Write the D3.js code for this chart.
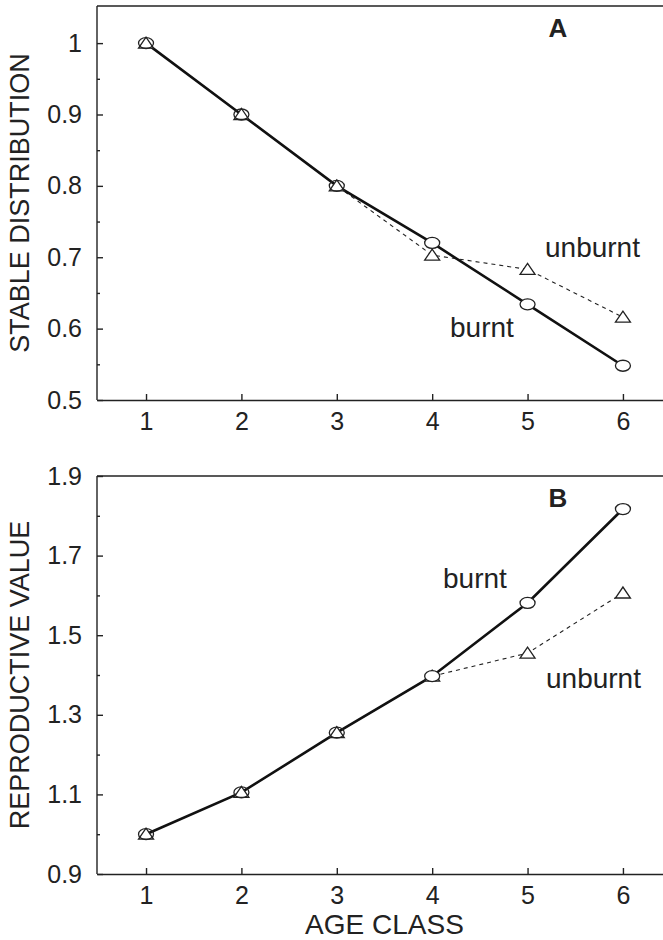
<!DOCTYPE html>
<html>
<head>
<meta charset="utf-8">
<script src="https://cdn.jsdelivr.net/npm/d3@7"></script>
<style>
  body { margin: 0; background: #fff; }
  svg { display: block; }
  text { font-family: "Liberation Sans", Arial, sans-serif; fill: #222; }
  .axis path, .axis line { stroke: #222; stroke-width: 1.4; }
</style>
</head>
<body>
<svg width="663" height="940"></svg>
<script>
var ageClass = [1, 2, 3, 4, 5, 6];

var distBurnt   = [1, 0.9, 0.8, 0.72, 0.634, 0.548];
var distUnburnt = [1, 0.9, 0.8, 0.703, 0.683, 0.616];

var repBurnt   = [1.0, 1.105, 1.255, 1.397, 1.581, 1.817];
var repUnburnt = [1.0, 1.105, 1.255, 1.397, 1.455, 1.606];

var distTicks = [0.5, 0.6, 0.7, 0.8, 0.9, 1];
var distMinor = [0.55, 0.65, 0.75, 0.85, 0.95];
var repTicks  = [0.9, 1.1, 1.3, 1.5, 1.7, 1.9];
var repMinor  = [1.0, 1.2, 1.4, 1.6, 1.8];

var width = 663;
var left = 97;

var svg = d3.select('svg');

var x = d3.scaleLinear().domain([0.486, 6.42]).range([left, width]);

var panels = [
  {label: 'A', title: 'STABLE DISTRIBUTION', burnt: distBurnt, unburnt: distUnburnt,
   ticks: distTicks, minor: distMinor, domain: [0.5, 1.052], top: 6, bottom: 400,
   fmt: d3.format('.1~f'), labBurnt: [450, 327], labUnburnt: [545, 247]},
  {label: 'B', title: 'REPRODUCTIVE VALUE', burnt: repBurnt, unburnt: repUnburnt,
   ticks: repTicks, minor: repMinor, domain: [0.9, 1.9], top: 476, bottom: 874,
   fmt: d3.format('.1f'), labBurnt: [443, 578], labUnburnt: [546, 678]}
];

panels.forEach(function(p){
  var y = d3.scaleLinear().domain(p.domain).range([p.bottom, p.top]);
  var g = svg.append('g');

  // top frame line
  g.append('line')
    .attr('x1', left).attr('x2', width)
    .attr('y1', p.top).attr('y2', p.top)
    .attr('stroke', '#222').attr('stroke-width', 1.4);

  // left axis
  g.append('g').attr('class', 'axis')
    .attr('transform', 'translate(' + left + ',0)')
    .call(d3.axisLeft(y).tickValues(p.ticks).tickFormat(p.fmt)
      .tickSizeInner(-6).tickSizeOuter(0).tickPadding(15))
    .call(function(a){
      a.selectAll('text').style('font-size', '25px');
      a.select('.domain').attr('d', 'M0,' + p.top + 'V' + p.bottom);
    });

  g.append('g').attr('class', 'axis')
    .attr('transform', 'translate(' + left + ',0)')
    .call(d3.axisLeft(y).tickValues(p.minor).tickFormat('')
      .tickSizeInner(-3).tickSizeOuter(0))
    .select('.domain').remove();

  // bottom axis
  g.append('g').attr('class', 'axis')
    .attr('transform', 'translate(0,' + p.bottom + ')')
    .call(d3.axisBottom(x).tickValues(ageClass).tickFormat(d3.format('d'))
      .tickSizeInner(-6).tickSizeOuter(0).tickPadding(12))
    .call(function(a){
      a.selectAll('text').style('font-size', '25px');
    });

  // y title
  g.append('text')
    .attr('transform', 'translate(' + 29 + ',' + ((p.top + p.bottom) / 2) + ') rotate(-90)')
    .attr('text-anchor', 'middle')
    .style('font-size', '27px')
    .text(p.title);

  // panel letter
  g.append('text')
    .attr('x', 558).attr('y', p.top + 31)
    .attr('text-anchor', 'middle')
    .style('font-size', '26px').style('font-weight', 'bold')
    .text(p.label);

  var line = d3.line().x(function(d, i){ return x(ageClass[i]); }).y(function(d){ return y(d); });

  g.append('path')
    .attr('d', line(p.unburnt))
    .attr('fill', 'none').attr('stroke', '#222')
    .attr('stroke-width', 1.1).attr('stroke-dasharray', '4,4');

  g.append('path')
    .attr('d', line(p.burnt))
    .attr('fill', 'none').attr('stroke', '#111')
    .attr('stroke-width', 2.6);

  // triangles (unburnt)
  g.selectAll('.tri')
    .data(p.unburnt)
    .enter()
    .append('path')
    .attr('d', function(d, i){
      var cx = x(ageClass[i]), cy = y(d);
      return 'M' + (cx - 7.5) + ',' + (cy + 5) + 'L' + cx + ',' + (cy - 6) + 'L' + (cx + 7.5) + ',' + (cy + 5) + 'Z';
    })
    .attr('fill', '#fff').attr('stroke', '#222').attr('stroke-width', 1.3);

  // circles (burnt)
  g.selectAll('.circ')
    .data(p.burnt)
    .enter()
    .append('ellipse')
    .attr('cx', function(d, i){ return x(ageClass[i]); })
    .attr('cy', function(d){ return y(d); })
    .attr('rx', 7.5).attr('ry', 5.5)
    .attr('fill', function(d, i){ return i < 3 ? 'none' : '#fff'; })
    .attr('stroke', '#222').attr('stroke-width', 1.3);

  g.append('text')
    .attr('x', p.labBurnt[0]).attr('y', p.labBurnt[1] + 10)
    .style('font-size', '28px')
    .text('burnt');

  g.append('text')
    .attr('x', p.labUnburnt[0]).attr('y', p.labUnburnt[1] + 10)
    .style('font-size', '28px')
    .text('unburnt');
});

svg.append('text')
  .attr('x', x(3.5)).attr('y', 934)
  .attr('text-anchor', 'middle')
  .style('font-size', '28px')
  .text('AGE CLASS');
</script>
</body>
</html>
